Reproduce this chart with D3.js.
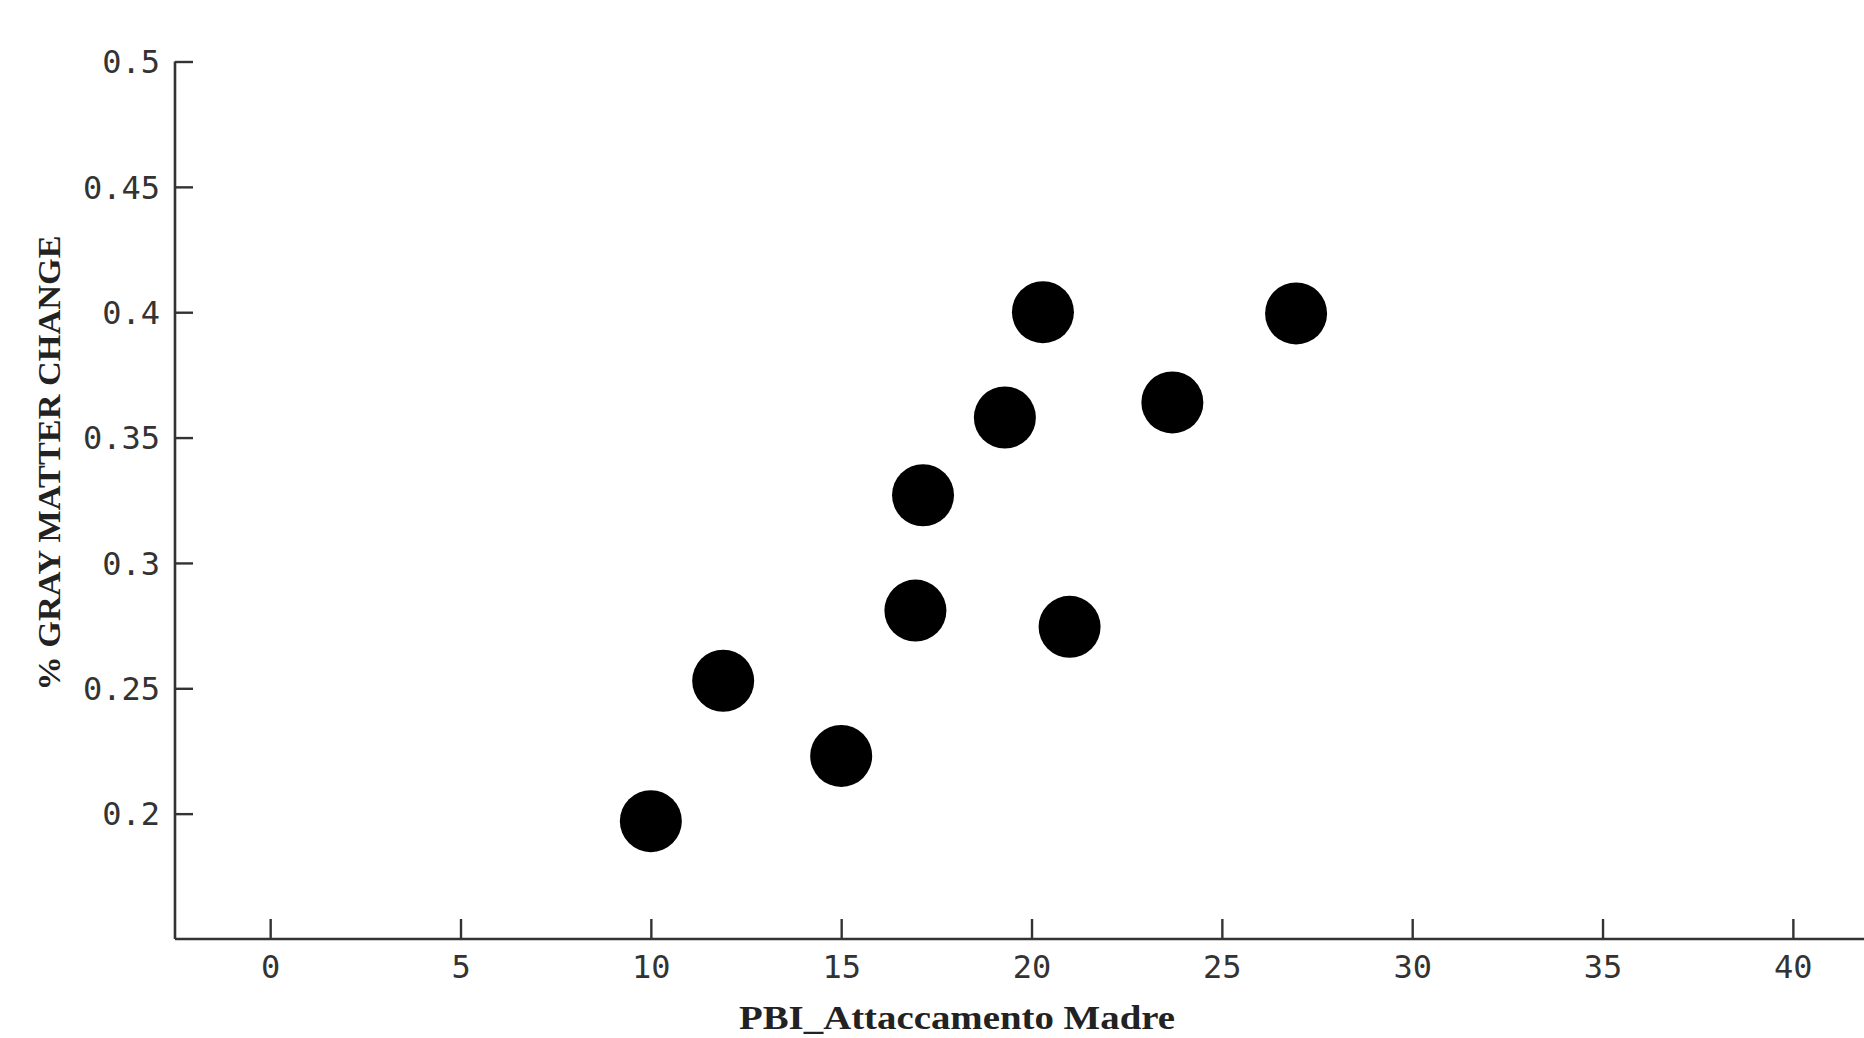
<!DOCTYPE html>
<html>
<head>
<meta charset="utf-8">
<script src="https://cdn.jsdelivr.net/npm/d3@7/dist/d3.min.js"></script>
<style>
  html, body { margin: 0; padding: 0; background: #fff; }
  svg { display: block; }
  .tick text { font-family: "DejaVu Sans Mono", monospace; fill: #333; }
  .title { font-family: "Liberation Serif", "DejaVu Serif", serif; font-weight: bold; fill: #222; }
</style>
</head>
<body>
<svg class="canvas" width="1864" height="1038"></svg>
<script>
// values
var pbi = [10, 11.9, 15, 16.95, 17.15, 19.3, 20.3, 21, 23.7, 26.95];
var gray = [0.197, 0.253, 0.223, 0.281, 0.327, 0.358, 0.4, 0.2745, 0.364, 0.3995];
var xTicks = [0, 5, 10, 15, 20, 25, 30, 35, 40];
var yTicks = [0.2, 0.25, 0.3, 0.35, 0.4, 0.45, 0.5];
const xLabel = 'PBI_Attaccamento Madre';
const yLabel = '% GRAY MATTER CHANGE';

const canvas = d3.select('.canvas');

var x = d3.scaleLinear()
    .domain([-2.5, 42])
    .range([175, 1869]);

var y = d3.scaleLinear()
    .domain([0.15, 0.5])
    .range([939, 61.5]);

var data = pbi.map(function(d, i) {
    return {x: d, y: gray[i]};
});

// x axis, ticks pointing up into the plot
var gx = canvas.append('g')
    .attr('transform', 'translate(0,' + y(0.15) + ')')
    .call(d3.axisBottom(x)
        .tickValues(xTicks)
        .tickSize(-20)
        .tickPadding(16)
        .tickFormat(d3.format('d')));

// y axis, ticks pointing right
var gy = canvas.append('g')
    .attr('transform', 'translate(' + x(-2.5) + ',0)')
    .call(d3.axisLeft(y)
        .tickValues(yTicks)
        .tickSize(-18)
        .tickPadding(15)
        .tickFormat(function(d) { return String(d); }));

canvas.selectAll('.domain')
    .attr('stroke', '#333')
    .attr('stroke-width', 2.6);
canvas.selectAll('.tick line')
    .attr('stroke', '#333')
    .attr('stroke-width', 2.4);
canvas.selectAll('.tick text')
    .style('font-size', '32px');
gx.selectAll('.tick text').attr('dy', '0.71em');
gy.selectAll('.tick text').attr('dy', '0.35em');

// remove outer tick ends of the domain paths
gx.select('.domain').attr('d', 'M' + x(-2.5) + ',0H' + x(42));
gy.select('.domain').attr('d', 'M0,' + y(0.15) + 'V' + y(0.5));

canvas.selectAll('.dot')
    .data(data)
    .enter()
    .append('circle')
    .attr('class', 'dot')
    .attr('cx', function(d) { return x(d.x); })
    .attr('cy', function(d) { return y(d.y); })
    .attr('r', 31)
    .style('fill', '#000');

canvas.append('text')
    .attr('class', 'title')
    .attr('x', 957)
    .attr('y', 1029)
    .attr('text-anchor', 'middle')
    .attr('textLength', 436)
    .attr('lengthAdjust', 'spacingAndGlyphs')
    .style('font-size', '33px')
    .text(xLabel);

canvas.append('text')
    .attr('class', 'title')
    .attr('transform', 'translate(60,463) rotate(-90)')
    .attr('text-anchor', 'middle')
    .attr('textLength', 455)
    .attr('lengthAdjust', 'spacingAndGlyphs')
    .style('font-size', '32px')
    .text(yLabel);
</script>
</body>
</html>
